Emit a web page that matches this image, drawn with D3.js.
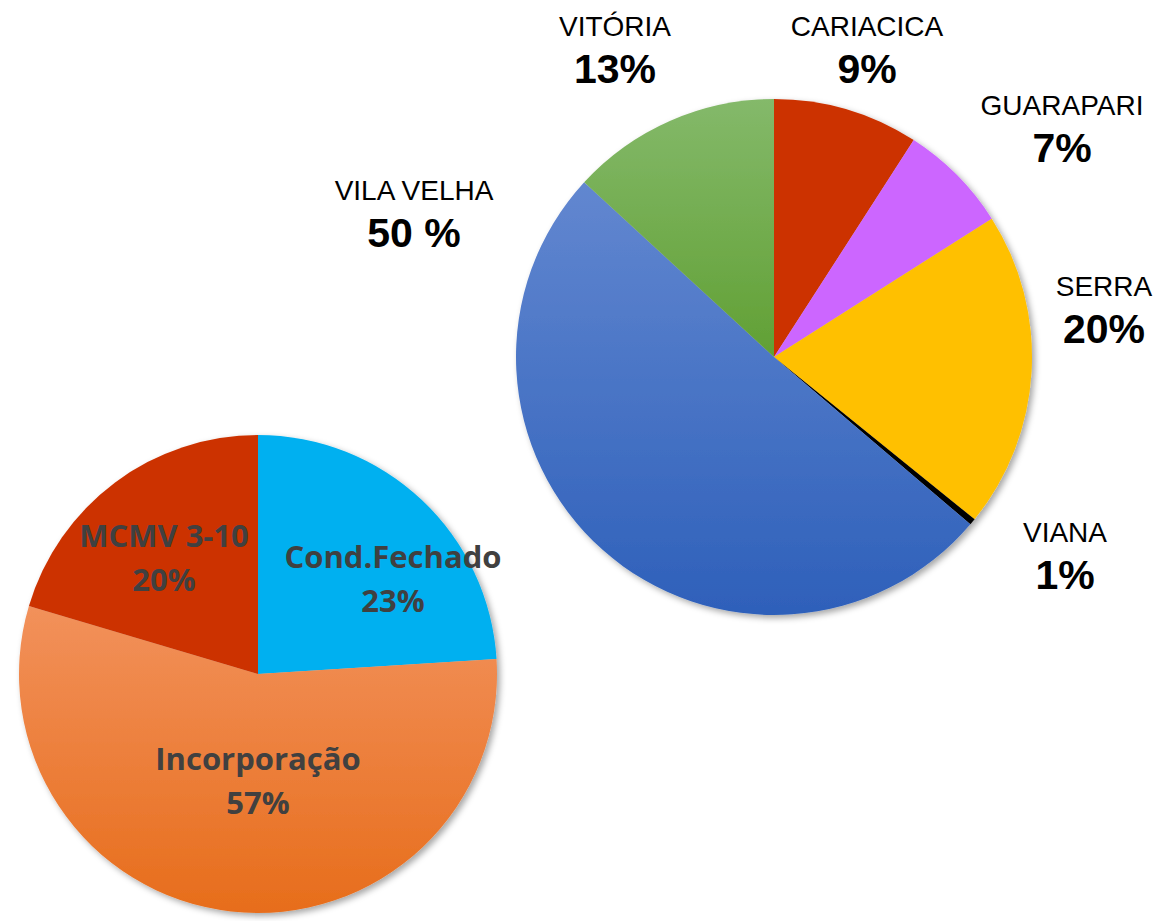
<!DOCTYPE html>
<html>
<head>
    <meta charset="UTF-8">
    <title>Distribuição por município e por tipo</title>
    <script src="https://d3js.org/d3.v7.min.js"></script>
    <style>
        html, body { margin: 0; padding: 0; background: #fff; }
        .city-name { font: 28px "Liberation Sans", Arial, sans-serif; fill: #000; text-anchor: middle; }
        .city-pct { font: bold 41px "Liberation Sans", Arial, sans-serif; fill: #000; text-anchor: middle; }
        .type-label { font-family: "Open Sans", sans-serif; font-weight: bold; fill: #404040; text-anchor: middle; }
    </style>
</head>
<body>
<script>
    // pie 1 - municipios (sentido horario, a partir do topo)
    var cityNames = ["CARIACICA", "GUARAPARI", "SERRA", "VIANA", "VILA VELHA", "VITÓRIA"];
    var cityShares = [9, 6.8, 19.6, 0.4, 50, 13];
    var cityLabels = ["9%", "7%", "20%", "1%", "50 %", "13%"];

    // pie 2 - tipo de empreendimento
    var typeNames = ["Cond.Fechado", "Incorporação", "MCMV 3-10"];
    var typeShares = [24, 55.6, 20.4];
    var typeLabels = ["23%", "57%", "20%"];

    var width = 1163, height = 921;

    var svg = d3.select("body").append("svg")
        .attr("width", width)
        .attr("height", height);

    var defs = svg.append("defs");

    var shadow = defs.append("filter").attr("id", "shadow")
        .attr("x", "-10%").attr("y", "-10%").attr("width", "120%").attr("height", "120%");
    shadow.append("feDropShadow")
        .attr("dx", 3).attr("dy", 3).attr("stdDeviation", 3)
        .attr("flood-color", "#000").attr("flood-opacity", 0.35);

    function addGradient(id, top, bottom) {
        var g = defs.append("linearGradient").attr("id", id)
            .attr("x1", 0).attr("y1", 0).attr("x2", 0).attr("y2", 1);
        g.append("stop").attr("offset", "0%").attr("stop-color", top);
        g.append("stop").attr("offset", "100%").attr("stop-color", bottom);
    }
    addGradient("g-blue", "#6287D0", "#2E60BA");
    addGradient("g-green", "#84B96A", "#61A034");
    addGradient("g-orange", "#F2915B", "#E76D1B");

    var cityColor = d3.scaleOrdinal()
        .domain(cityNames)
        .range(["#CC3300", "#CC66FF", "#FFC000", "#000000", "url(#g-blue)", "url(#g-green)"]);

    var typeColor = d3.scaleOrdinal()
        .domain(typeNames)
        .range(["#00B0F0", "url(#g-orange)", "#CC3300"]);

    var pie = d3.pie().sort(null).value(function (d) { return d.v; });

    // ---- pie grande (municipios)
    var bigR = 258;
    var big = svg.append("g")
        .attr("transform", "translate(774,357)")
        .attr("filter", "url(#shadow)");
    var bigArc = d3.arc().innerRadius(0).outerRadius(bigR);
    var cityData = cityNames.map(function (n, i) { return { name: n, v: cityShares[i] }; });
    big.selectAll("path")
        .data(pie(cityData))
        .enter().append("path")
        .attr("d", bigArc)
        .attr("fill", function (d) { return cityColor(d.data.name); });

    // posicao dos rotulos (centro do texto, linha de base do nome)
    var cityLabelPos = {
        "CARIACICA": [867, 36],
        "GUARAPARI": [1062, 115],
        "SERRA": [1104, 296],
        "VIANA": [1065, 542],
        "VILA VELHA": [414, 200],
        "VITÓRIA": [615, 36]
    };
    var cityLbl = svg.append("g").selectAll("g")
        .data(cityNames)
        .enter().append("g")
        .attr("transform", function (d) { return "translate(" + cityLabelPos[d][0] + "," + cityLabelPos[d][1] + ")"; });
    cityLbl.append("text").attr("class", "city-name").text(function (d) { return d; });
    cityLbl.append("text").attr("class", "city-pct").attr("y", 47)
        .text(function (d, i) { return cityLabels[i]; });

    // ---- pie pequena (tipos)
    var smallR = 239;
    var small = svg.append("g")
        .attr("transform", "translate(258,674)")
        .attr("filter", "url(#shadow)");
    var smallArc = d3.arc().innerRadius(0).outerRadius(smallR);
    var typeData = typeNames.map(function (n, i) { return { name: n, v: typeShares[i] }; });
    small.selectAll("path")
        .data(pie(typeData))
        .enter().append("path")
        .attr("d", smallArc)
        .attr("fill", function (d) { return typeColor(d.data.name); });

    var typeLabelPos = {
        "Cond.Fechado": [393, 568],
        "Incorporação": [258, 770],
        "MCMV 3-10": [164, 547]
    };
    var typeLbl = svg.append("g").selectAll("g")
        .data(typeNames)
        .enter().append("g")
        .attr("transform", function (d) { return "translate(" + typeLabelPos[d][0] + "," + typeLabelPos[d][1] + ")"; });
    typeLbl.append("text").attr("class", "type-label").style("font-size", "31px")
        .text(function (d) { return d; });
    typeLbl.append("text").attr("class", "type-label").style("font-size", "31px").attr("y", 44)
        .text(function (d, i) { return typeLabels[i]; });
</script>
</body>
</html>
